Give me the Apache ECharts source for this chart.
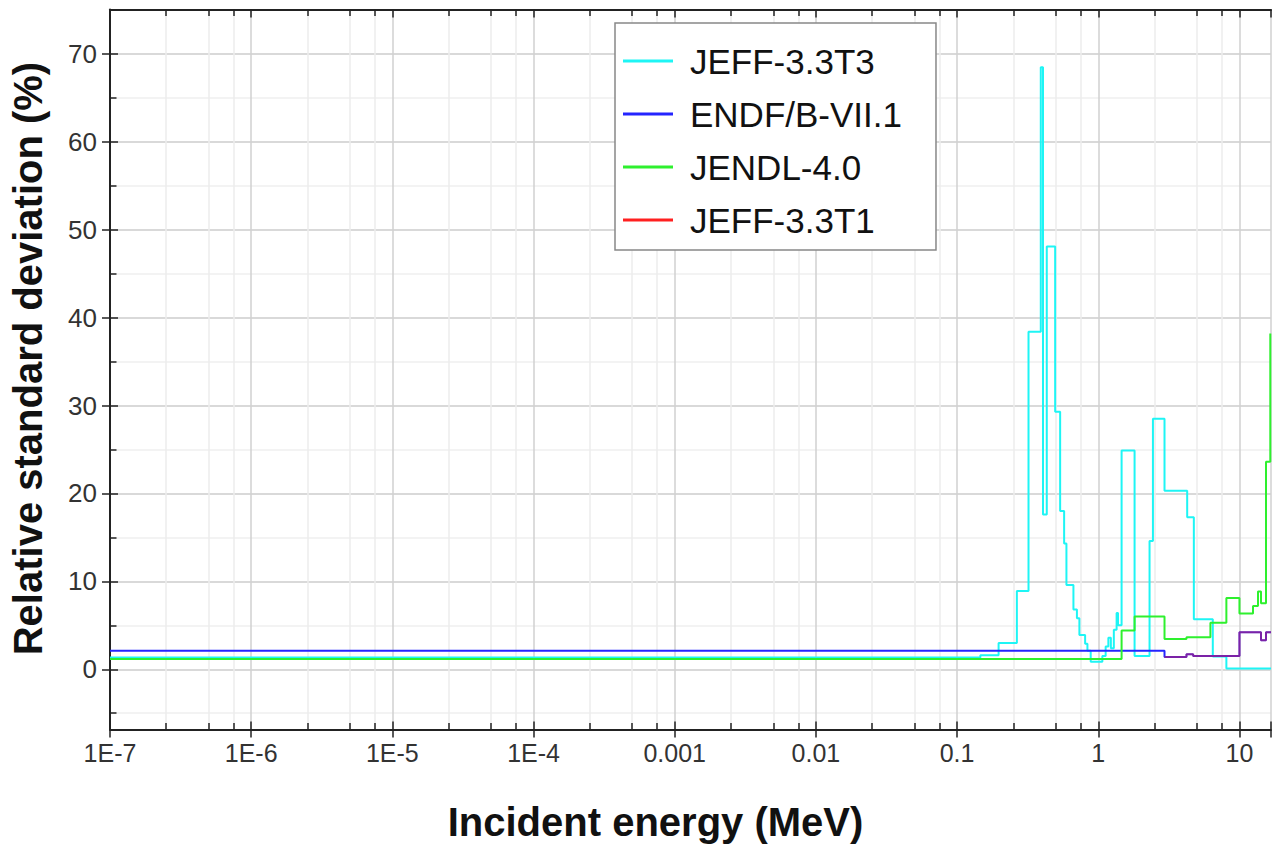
<!DOCTYPE html>
<html>
<head>
<meta charset="utf-8">
<script src="https://cdn.jsdelivr.net/npm/echarts@6/dist/echarts.min.js"></script>
<style>
html,body{margin:0;padding:0;background:#fff;}
#chart{width:1274px;height:848px;}
</style>
</head>
<body>
<div id="chart"></div>
<script>
// ---- tick labels ----
const xTickExponents = [-7, -6, -5, -4, -3, -2, -1, 0, 1];
const xTickLabels = ['1E-7', '1E-6', '1E-5', '1E-4', '0.001', '0.01', '0.1', '1', '10'];
const yTickValues = [0, 10, 20, 30, 40, 50, 60, 70];
const xMinorFactors = [2.5, 5, 7.5];

// ---- series: energy group boundaries (MeV) and relative std. dev. (%) ----
const jeff33t3Energy = [1e-7, 0.1462, 0.1968, 0.2651, 0.3206, 0.3916, 0.406, 0.4318, 0.4951, 0.537, 0.573, 0.595, 0.667, 0.706, 0.735, 0.807, 0.838, 0.884, 1.069, 1.128, 1.179, 1.228, 1.289, 1.349, 1.380, 1.463, 1.808, 2.308, 2.439, 2.946, 4.264, 4.753, 6.476, 8.08, 16.73];
const jeff33t3Value  = [1.35, 1.6, 3.0, 8.9, 38.4, 68.5, 17.6, 48.1, 29.3, 18.0, 14.3, 9.6, 6.8, 5.8, 3.9, 2.9, 2.1, 0.86, 1.5, 2.6, 3.6, 2.4, 4.5, 6.4, 5.0, 24.9, 1.5, 14.6, 28.5, 20.3, 17.3, 5.7, 1.45, 0.1, 0.1];

const endfEnergy = [1e-7, 2.946, 4.215, 4.699, 10, 14.21, 15.42, 16.73];
const endfValue  = [2.1, 1.4, 1.72, 1.5, 4.2, 3.3, 4.2, 4.2];

const jendlEnergy = [1e-7, 1.463, 1.808, 2.946, 4.215, 6.228, 8.08, 10, 12.48, 13.53, 14.21, 15.42, 16.54, 16.73];
const jendlValue  = [1.17, 4.4, 6.0, 3.45, 3.65, 5.3, 8.1, 6.35, 7.2, 8.85, 7.5, 23.6, 38.2, 38.2];

const jeff33t1Energy = [2.946, 4.215, 4.699, 10, 14.21, 15.42, 16.73];
const jeff33t1Value  = [1.4, 1.72, 1.5, 4.2, 3.3, 4.2, 4.2];

const seriesNames = ['JEFF-3.3T3', 'ENDF/B-VII.1', 'JENDL-4.0', 'JEFF-3.3T1'];
const seriesColors = ['#1ef5f5', '#2424ff', '#2ef02e', '#ff2020'];

const X_MIN = 1e-7, X_MAX = 16.73, Y_MIN = -6.85, Y_MAX = 75.05;

function zip(e, v) { return e.map((x, i) => [x, v[i]]); }

const minorVals = [];
for (let d = -7; d <= 1; d++) {
  xMinorFactors.forEach(f => { const v = f * Math.pow(10, d); if (v < X_MAX) minorVals.push(v); });
}
const TICK = 0.74; // minor tick length in data units (~6.5px)

const FONT = "'Liberation Sans', Arial, sans-serif";
const xLabelFmt = v => {
  const l = Math.log10(v); const e = Math.round(l);
  if (Math.abs(l - e) > 1e-6) return '';
  const i = xTickExponents.indexOf(e);
  return i >= 0 ? xTickLabels[i] : '';
};
const yLabelFmt = v => (yTickValues.indexOf(Math.round(v * 1000) / 1000) >= 0 ? String(Math.round(v)) : '');

const lineSeries = [
  [jeff33t3Energy, jeff33t3Value, 1],
  [endfEnergy, endfValue, 1],
  [jendlEnergy, jendlValue, 1],
  [jeff33t1Energy, jeff33t1Value, 0.4]
].map((s, i) => ({
  name: seriesNames[i], type: 'line', step: 'end', showSymbol: false,
  symbol: 'rect', symbolSize: 2,
  data: zip(s[0], s[1]), color: seriesColors[i], z: 3, xAxisIndex: 0, yAxisIndex: 0,
  itemStyle: { color: seriesColors[i] },
  lineStyle: { width: 2, color: seriesColors[i], opacity: s[2] }
}));

const axisLineStyle = { color: '#222', width: 2 };
const tickLineStyle = { color: '#222', width: 1.5 };

const option = {
  animation: false,
  textStyle: { fontFamily: FONT },
  grid: { left: 109.5, right: 0, top: 9.6, bottom: 118.5, containLabel: false },
  legend: {
    orient: 'vertical', left: 615, top: 23, z: 10,
    data: seriesNames.map((n, i) => ({
      name: n, icon: 'rect',
      itemStyle: { color: seriesColors[i], borderWidth: 0, opacity: 1 }
    })),
    itemWidth: 50, itemHeight: 3, itemGap: 13,
    padding: [18, 34, 10, 8],
    backgroundColor: '#fff', borderColor: '#888', borderWidth: 1.5,
    formatter: name => '{g|}' + name,
    textStyle: {
      fontSize: 35, color: '#111', lineHeight: 40, fontFamily: FONT,
      rich: { g: { width: 12, height: 10 } }
    }
  },
  xAxis: [
    {
      type: 'log', logBase: 10, min: X_MIN, max: X_MAX, position: 'bottom',
      axisLine: { show: true, onZero: false, lineStyle: axisLineStyle },
      axisTick: { show: true, inside: false, length: 8, lineStyle: tickLineStyle },
      axisLabel: { formatter: xLabelFmt, fontSize: 25, color: '#333', margin: 11 },
      splitLine: { show: true, lineStyle: { color: '#d0d0d0', width: 1.5 } },
      name: 'Incident energy (MeV)', nameLocation: 'middle', nameGap: 72,
      nameTextStyle: { fontSize: 40, fontWeight: 'bold', color: '#111', fontFamily: FONT, padding: [0, 70, 0, 0] }
    },
    {
      type: 'log', logBase: 10, min: X_MIN, max: X_MAX, position: 'bottom',
      axisLine: { show: false, onZero: false },
      axisTick: { show: true, inside: true, length: 8, lineStyle: tickLineStyle },
      axisLabel: { show: false }, splitLine: { show: false }
    },
    {
      type: 'log', logBase: 10, min: X_MIN, max: X_MAX, position: 'top',
      axisLine: { show: true, onZero: false, lineStyle: axisLineStyle },
      axisTick: { show: true, inside: true, length: 8, lineStyle: tickLineStyle },
      axisLabel: { show: false }, splitLine: { show: false }
    }
  ],
  yAxis: [
    {
      type: 'value', min: Y_MIN, max: Y_MAX, splitNumber: 8, position: 'left',
      axisLine: { show: true, onZero: false, lineStyle: axisLineStyle },
      axisTick: { show: true, inside: false, length: 8, customValues: yTickValues, lineStyle: tickLineStyle },
      axisLabel: { formatter: yLabelFmt, fontSize: 26, color: '#333', margin: 13 },
      splitLine: { show: true, lineStyle: { color: '#cdcdcd', width: 1.5 } },
      minorTick: { show: false, splitNumber: 2 },
      minorSplitLine: { show: true, lineStyle: { color: '#efefef', width: 1.5 } },
      name: 'Relative standard deviation (%)', nameLocation: 'middle', nameGap: 62,
      nameTextStyle: { fontSize: 40, fontWeight: 'bold', color: '#111', fontFamily: FONT, padding: [0, 0, 0, 22] }
    },
    {
      type: 'value', min: Y_MIN, max: Y_MAX, splitNumber: 8, position: 'left',
      axisLine: { show: false, onZero: false },
      axisTick: { show: true, inside: true, length: 8, customValues: yTickValues, lineStyle: tickLineStyle },
      minorTick: { show: true, splitNumber: 2, length: 6.5, lineStyle: tickLineStyle },
      axisLabel: { show: false }, splitLine: { show: false }
    }
  ],
  series: [
    {
      name: 'minor-grid', type: 'line', data: [], z: 0, silent: true,
      markLine: {
        z: 0, silent: true, symbol: 'none', label: { show: false }, animation: false,
        lineStyle: { color: '#ededed', width: 1.5, type: 'solid' },
        data: minorVals.map(v => [{ coord: [v, Y_MIN] }, { coord: [v, Y_MAX] }])
      }
    },
    {
      name: 'minor-ticks', type: 'line', data: [], z: 3, silent: true,
      markLine: {
        z: 3, silent: true, symbol: 'none', label: { show: false }, animation: false,
        lineStyle: { color: '#222', width: 1.5, type: 'solid' },
        data: minorVals.map(v => [{ coord: [v, Y_MIN] }, { coord: [v, Y_MIN + TICK] }])
          .concat(minorVals.map(v => [{ coord: [v, Y_MAX] }, { coord: [v, Y_MAX - TICK] }]))
      }
    }
  ].concat(lineSeries)
};

const chart = echarts.init(document.getElementById('chart'), null, { renderer: 'svg' });
chart.setOption(option);
</script>
</body>
</html>
